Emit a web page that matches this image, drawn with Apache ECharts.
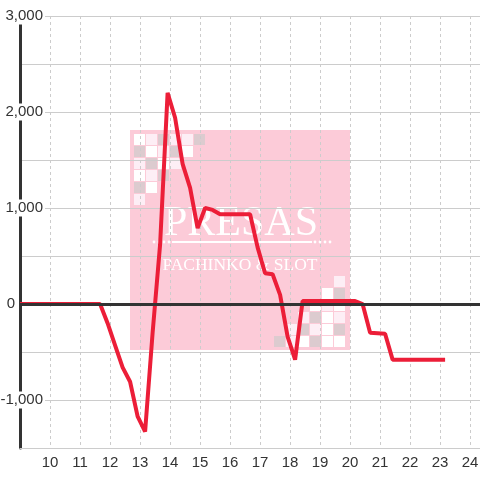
<!DOCTYPE html>
<html><head><meta charset="utf-8">
<script src="https://cdn.jsdelivr.net/npm/echarts@6/dist/echarts.min.js"></script>
<style>html,body{margin:0;padding:0;background:#fff}#c{width:480px;height:480px}</style>
</head><body><div id="c"></div>
<script>
// ---- data ----
const hours = [9, 11.67, 11.92, 12.17, 12.42, 12.67, 12.92, 13.17, 13.42, 13.67, 13.92,
  14.17, 14.42, 14.67, 14.92, 15.17, 15.42, 15.67, 15.92, 16.17, 16.42, 16.67, 16.92,
  17.17, 17.42, 17.67, 17.92, 18.17, 18.42, 18.67, 18.92, 19.17, 19.42, 19.67, 19.92,
  20.17, 20.42, 20.67, 20.92, 21.17, 21.42, 21.67, 21.92, 22.17, 22.42, 22.67, 22.92, 23.17];
const balance = [0, 0, -200, -430, -660, -810, -1170, -1330, -300, 620, 2200,
  1940, 1460, 1210, 790, 1000, 980, 935, 935, 935, 935, 935, 590,
  320, 310, 95, -340, -580, 30, 30, 30, 30, 30, 30, 30,
  30, 0, -300, -305, -310, -580, -580, -580, -580, -580, -580, -580, -580];
const xTickLabels = [10, 11, 12, 13, 14, 15, 16, 17, 18, 19, 20, 21, 22, 23, 24];
const yTickLabels = [-1000, 0, 1000, 2000, 3000];

// ---- watermark decoration ----
const W = '#ffffff', L = '#fdeef5', G = '#dccbcf';
const tlPattern = [
  [W, L, G, L, L, G],
  [G, W, L, G, W],
  [L, G, W, L],
  [W, L, G],
  [G, W],
  [L]
];
const brPattern = [ // from right to left, bottom row first
  [W, W, G, W, L, G],
  [G, W, L, G, L],
  [L, W, G, L],
  [W, L, W],
  [G, W],
  [L]
];
const deco = [];
deco.push({type: 'rect', z: -10, shape: {x: 130, y: 130, width: 220, height: 220}, style: {fill: '#fccbd8'}});
tlPattern.forEach((row, r) => row.forEach((col, c) => {
  deco.push({type: 'rect', z: -9, shape: {x: 134 + 12 * c, y: 134 + 12 * r, width: 11, height: 11}, style: {fill: col}});
}));
brPattern.forEach((row, r) => row.forEach((col, k) => {
  deco.push({type: 'rect', z: -9, shape: {x: 334 - 12 * k, y: 336 - 12 * r, width: 11, height: 11}, style: {fill: col}});
}));
deco.push({type: 'text', z: -8, style: {x: 241, y: 224, text: 'PRESAS', fill: '#ffffff',
  font: '42px "Liberation Serif"', textAlign: 'center', textVerticalAlign: 'middle'}});
deco.push({type: 'rect', z: -8, shape: {x: 172, y: 241, width: 140, height: 2}, style: {fill: '#ffffff'}});
[154, 159, 164, 169, 315, 320, 325, 330].forEach(x => {
  deco.push({type: 'circle', z: -8, shape: {cx: x, cy: 242, r: 1.4}, style: {fill: '#ffffff'}});
});
deco.push({type: 'text', z: -8, style: {x: 240, y: 265, text: 'PACHINKO & SLOT', fill: '#ffffff',
  font: '17.5px "Liberation Serif"', textAlign: 'center', textVerticalAlign: 'middle'}});

const chart = echarts.init(document.getElementById('c'), null, {renderer: 'canvas'});
chart.setOption({
  animation: false,
  backgroundColor: '#ffffff',
  grid: {left: 20, right: -20, top: 16, bottom: 32, containLabel: false, outerBoundsMode: 'none'},
  graphic: deco,
  xAxis: {
    type: 'value', min: 9, max: 25, interval: 1,
    axisLine: {show: true, onZero: false, lineStyle: {color: '#cccccc', width: 1}},
    axisTick: {show: false},
    axisLabel: {
      margin: 7, color: '#333333', fontSize: 15, fontFamily: 'Liberation Sans',
      formatter: v => xTickLabels.includes(v) ? String(v) : ''
    },
    splitLine: {show: true, lineStyle: {color: '#cccccc', width: 1, type: [3, 3]}}
  },
  yAxis: {
    type: 'value', min: -1500, max: 3000, interval: 500,
    axisLine: {show: true, lineStyle: {color: '#333333', width: 3}},
    axisTick: {show: false},
    axisLabel: {
      margin: -25, color: '#333333', fontSize: 15, fontFamily: 'Liberation Sans',
      formatter: v => yTickLabels.includes(v)
        ? (v === 0 ? '{z|0}' : '{b|' + v.toLocaleString('en-US') + '}') : '',
      rich: {
        b: {backgroundColor: '#ffffff', padding: [1, 2, 1, 4], lineHeight: 16, fontSize: 15,
            color: '#333333', fontFamily: 'Liberation Sans'},
        z: {padding: [0, 30, 0, 0], fontSize: 15, color: '#333333', fontFamily: 'Liberation Sans'}
      }
    },
    splitLine: {show: true, lineStyle: {color: '#cccccc', width: 1}}
  },
  series: [
    {
      type: 'line', z: 2, data: [[9, 0]], symbol: 'none', lineStyle: {opacity: 0},
      markLine: {silent: true, symbol: 'none', label: {show: false},
        lineStyle: {color: '#333333', width: 3, type: 'solid'}, data: [{yAxis: 0}]}
    },
    {
      type: 'line', z: 3, symbol: 'none', smooth: false,
      lineStyle: {color: '#ec1e38', width: 4},
      data: hours.map((h, i) => [h, balance[i]])
    }
  ]
});
</script></body></html>
